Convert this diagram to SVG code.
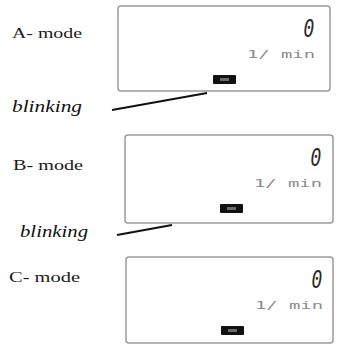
<svg xmlns="http://www.w3.org/2000/svg" width="338" height="344" viewBox="0 0 338 344">
  <style>
    .panel { fill: #ffffff; stroke: #9a9a9a; stroke-width: 1.5; }
    .mode { font-family: "Liberation Serif", serif; font-size: 15px; fill: #1a1a1a; }
    .note { font-family: "Liberation Serif", serif; font-style: italic; font-size: 16px; fill: #111111; }
    .digit { font-family: "DejaVu Sans Mono", monospace; font-style: italic; font-size: 24px; fill: #2a2a2a; }
    .unit { font-family: "DejaVu Sans Mono", monospace; font-size: 10px; fill: #8a8a8a; }
    .seg { fill: #111111; }
    .segin { fill: #6a6a6a; }
    .lead { stroke: #111111; stroke-width: 2; fill: none; }
  </style>
  <defs>
    <!-- LCD panel contents, positioned relative to the panel's top-left corner -->
    <g id="lcd">
      <text class="digit" x="0" y="0" text-anchor="middle" transform="translate(191 31) scale(0.75 1)">0</text>
      <text class="unit" x="197" y="52" text-anchor="end" textLength="68" lengthAdjust="spacingAndGlyphs">1/ min</text>
      <rect class="seg" x="95" y="69" width="23" height="9" rx="1"/>
      <rect class="segin" x="102" y="72" width="9" height="3"/>
    </g>
  </defs>

  <g id="mode-a">
    <text class="mode" x="12" y="38" textLength="70" lengthAdjust="spacingAndGlyphs">A- mode</text>
    <rect class="panel" x="118" y="6" width="212" height="85" rx="3"/>
    <use href="#lcd" x="118" y="6"/>
  </g>

  <g id="mode-b">
    <text class="mode" x="13" y="170" textLength="70" lengthAdjust="spacingAndGlyphs">B- mode</text>
    <rect class="panel" x="125" y="135" width="208" height="88" rx="3"/>
    <use href="#lcd" x="125" y="135"/>
  </g>

  <g id="mode-c">
    <text class="mode" x="9" y="282" textLength="71" lengthAdjust="spacingAndGlyphs">C- mode</text>
    <rect class="panel" x="126" y="257" width="207" height="86" rx="3"/>
    <use href="#lcd" x="126" y="257"/>
  </g>

  <g id="note-1">
    <text class="note" x="12" y="112" textLength="70" lengthAdjust="spacingAndGlyphs">blinking</text>
  </g>
  <g id="note-2">
    <text class="note" x="20" y="237" textLength="68" lengthAdjust="spacingAndGlyphs">blinking</text>
  </g>

  <g id="connectors">
    <line class="lead" x1="112" y1="110" x2="207" y2="93"/>
    <line class="lead" x1="117" y1="235" x2="172" y2="225"/>
  </g>
</svg>
